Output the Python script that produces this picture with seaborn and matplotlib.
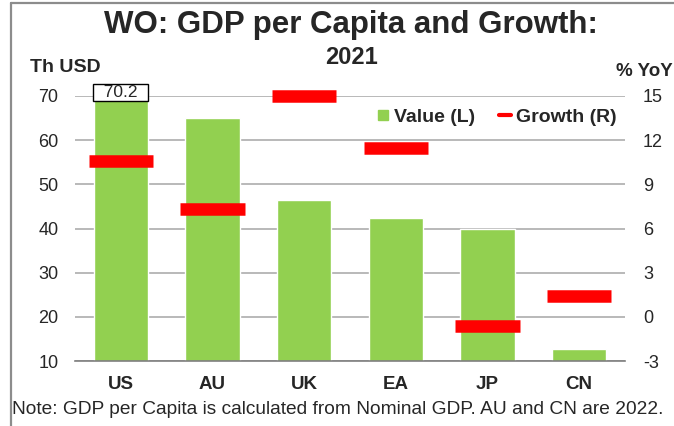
"""GDP per capita (bars, left) and growth (red dashes, right)."""
import numpy as np
import matplotlib
matplotlib.use("Agg")
import matplotlib.pyplot as plt
from matplotlib.lines import Line2D
import seaborn as sns

CATEGORIES = ["US", "AU", "UK", "EA", "JP", "CN"]
VALUES = [70.2, 65.0, 46.5, 42.4, 40.0, 12.7]
GROWTH = [10.6, 7.3, 15.0, 11.5, -0.6, 1.4]
LEFT_TICKS = [10, 20, 30, 40, 50, 60, 70]
RIGHT_TICKS = [-3, 0, 3, 6, 9, 12, 15]

GREEN = "#92D050"
RED = "#FF0000"
GRID = "#A6A6A6"

W, H = 674, 426


def fx(px):
    return px / W


def fy(py):
    return 1 - py / H


def main():
    sns.set_style("white")
    plt.rcParams["font.family"] = ["Liberation Sans", "DejaVu Sans"]
    plt.rcParams["axes.unicode_minus"] = False

    fig = plt.figure(figsize=(W / 100, H / 100), dpi=100)
    ax = fig.add_axes([fx(75), fy(361), fx(625) - fx(75), fy(96) - fy(361)])

    sns.barplot(x=CATEGORIES, y=VALUES, color=GREEN, saturation=1,
                width=0.59, ax=ax, zorder=2)
    ax.set_ylim(LEFT_TICKS[0], LEFT_TICKS[-1])
    ax.set_xlim(-0.5, len(CATEGORIES) - 0.5)
    ax.set_yticks(LEFT_TICKS)
    ax.set_xlabel("")
    ax.set_ylabel("")
    ax.yaxis.grid(True, color=GRID, lw=1.1, zorder=0)
    ax.set_axisbelow(True)
    for side in ["left", "right", "top"]:
        ax.spines[side].set_visible(False)
    ax.spines["bottom"].set_color("#7F7F7F")
    ax.spines["bottom"].set_linewidth(1.2)
    ax.tick_params(axis="y", length=0, pad=12, labelsize=13)
    ax.tick_params(axis="x", which="major", length=0, pad=11, labelsize=13.5)
    for lab in ax.get_xticklabels():
        lab.set_fontweight("bold")
    ax.set_xticks(np.arange(-0.5, len(CATEGORIES)), minor=True)
    ax.tick_params(axis="x", which="minor", length=5, width=1, color="#404040",
                   direction="out")

    ax2 = ax.twinx()
    pos = np.arange(len(CATEGORIES))
    ax2.hlines(GROWTH, pos - 0.35, pos + 0.35, colors=RED, lw=9,
               capstyle="butt", zorder=3, clip_on=False)
    ax2.set_ylim(RIGHT_TICKS[0], RIGHT_TICKS[-1])
    ax2.set_yticks(RIGHT_TICKS)
    ax2.tick_params(axis="y", length=0, pad=13, labelsize=13)
    for side in ["left", "right", "top", "bottom"]:
        ax2.spines[side].set_visible(False)

    # data label on the US bar
    ax.annotate(f"  {VALUES[0]:.1f}  ", xy=(0, VALUES[0]), xytext=(0, 2),
                textcoords="offset points", ha="center", va="center",
                fontsize=12.5, annotation_clip=False, zorder=5,
                bbox=dict(boxstyle="square,pad=0.05", fc="white",
                          ec="black", lw=1))

    fig.text(fx(351), fy(25), "WO: GDP per Capita and Growth:", ha="center",
             va="center", fontsize=22.5, fontweight="bold")
    fig.text(fx(351), fy(57), "2021", ha="center", va="center",
             fontsize=17, fontweight="bold")
    fig.text(fx(30), fy(68), "Th USD", ha="left", va="center",
             fontsize=14, fontweight="bold")
    fig.text(fx(673), fy(72), "% YoY", ha="right", va="center",
             fontsize=13.5, fontweight="bold")
    fig.text(fx(12), fy(410), "Note: GDP per Capita is calculated from "
             "Nominal GDP. AU and CN are 2022.", ha="left", va="center",
             fontsize=13.8)

    handles = [
        Line2D([], [], marker="s", ls="", color=GREEN, markersize=7.5),
        Line2D([], [], color=RED, lw=3),
    ]
    fig.legend(handles, ["Value (L)", "Growth (R)"], loc="center right",
               bbox_to_anchor=(fx(617), fy(117)), ncol=2, frameon=False,
               handlelength=0.6, handletextpad=0.3, columnspacing=1.2,
               borderpad=0, borderaxespad=0,
               prop={"weight": "bold", "size": 14})

    # grey frame on the left and top edges
    fig.add_artist(Line2D([fx(11), fx(11)], [fy(3), 0], color="#8C8C8C", lw=1.6))
    fig.add_artist(Line2D([fx(11), 1], [fy(3), fy(3)], color="#8C8C8C", lw=1.6))

    fig.savefig("out.png", dpi=100)
    plt.close(fig)


if __name__ == "__main__":
    main()
